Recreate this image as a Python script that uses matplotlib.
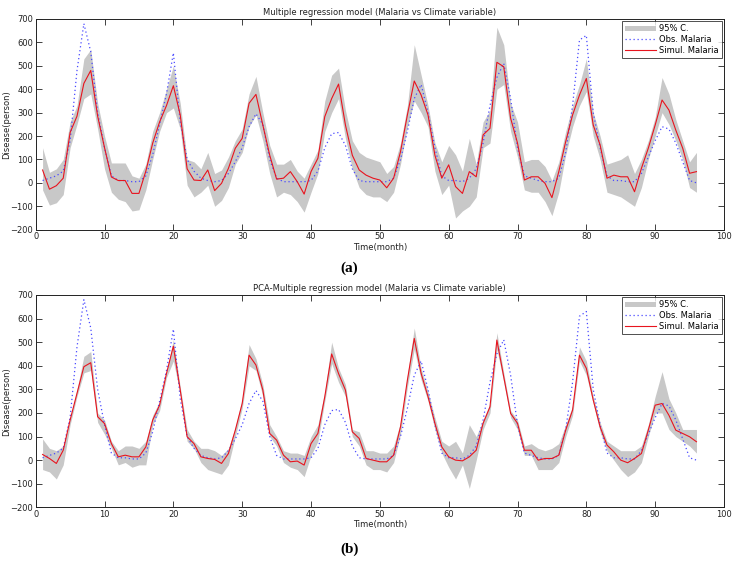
import matplotlib
matplotlib.use("Agg")
import matplotlib.pyplot as plt
import numpy as np

months = list(range(1, 97))

obs = [10, 20, 30, 50, 180, 480, 680, 560, 300, 150,
       30, 10, 10, 5, 5, 30, 120, 250, 380, 555,
       260, 100, 50, 20, 10, 5, 10, 40, 90, 150,
       240, 295, 250, 100, 20, 5, 5, 5, 5, 10,
       50, 150, 210, 215, 160, 60, 10, 5, 5, 5,
       5, 20, 100, 220, 360, 420, 300, 150, 30, 10,
       10, 5, 20, 60, 170, 330, 450, 510, 360, 150,
       30, 20, 10, 5, 5, 20, 130, 330, 610, 630,
       300, 150, 30, 10, 10, 5, 5, 40, 110, 180,
       240, 230, 170, 90, 10, 0]

sim_a = [55, -27, -12, 20, 215, 285, 425, 480, 285, 150,
         25, 10, 10, -45, -45, 50, 170, 260, 330, 415,
         290, 60, 12, 10, 55, -33, -2, 62, 148, 190,
         340, 378, 247, 118, 16, 20, 48, 5, -48, 48,
         105, 283, 360, 422, 247, 118, 55, 33, 20, 12,
         -21, 20, 133, 290, 435, 375, 290, 118, 20, 77,
         -16, -45, 48, 26, 205, 233, 515, 496, 276, 170,
         12, 26, 26, -2, -63, 48, 176, 290, 375, 446,
         247, 162, 20, 33, 26, 26, -38, 62, 148, 247,
         354, 311, 225, 148, 41, 48]

up_a = [150, 45, 60, 100, 260, 330, 530, 570, 340, 200,
        85, 85, 85, 30, 20, 80, 220, 300, 400, 500,
        340, 100, 90, 60, 130, 40, 55, 110, 180, 230,
        380, 455, 300, 160, 80, 80, 100, 50, 20, 80,
        140, 350, 460, 490, 310, 180, 130, 110, 100, 90,
        40, 70, 170, 330, 590, 460, 330, 170, 90, 160,
        120, 50, 190, 80, 260, 310, 665, 590, 340, 260,
        90, 100, 100, 70, 10, 90, 220, 330, 420, 530,
        300, 200, 80, 90, 100, 120, 40, 100, 180, 280,
        450, 380, 270, 180, 90, 130]

lo_a = [-30, -95, -85, -50, 150, 250, 360, 380, 230, 60,
        -40, -70, -80, -120, -115, -30, 100, 220, 300, 320,
        230, -10, -60, -40, -10, -100, -75, -20, 80, 130,
        240, 290, 180, 40, -60, -40, -50, -80, -125, -40,
        40, 220, 300, 360, 190, 60, -20, -50, -60, -60,
        -80, -40, 80, 240, 350, 300, 240, 50, -50, -10,
        -150, -120, -100, -60, 150, 170, 400, 420, 220, 110,
        -30, -40, -40, -80, -140, -40, 120, 240, 330, 390,
        200, 100, -40, -50, -60, -80, -100, -20, 100, 200,
        300, 250, 180, 100, -20, -40]

sim_b = [24, 7, -14, 42, 170, 283, 396, 413, 184, 155,
         70, 14, 21, 14, 14, 56, 170, 233, 367, 483,
         297, 99, 70, 14, 7, 3, -14, 28, 127, 240,
         445, 403, 297, 113, 85, 21, -7, -4, -21, 70,
         113, 269, 450, 367, 297, 120, 92, 7, 0, -7,
         -7, 21, 141, 339, 516, 367, 269, 156, 56, 14,
         0, -3, 14, 42, 156, 226, 509, 353, 198, 156,
         42, 42, 0, 7, 7, 21, 127, 212, 445, 389,
         255, 141, 64, 35, 0, -11, 7, 28, 127, 233,
         240, 190, 127, 113, 99, 78]

up_b = [90, 50, 40, 60, 180, 300, 440, 460, 200, 170,
        80, 40, 60, 60, 50, 80, 190, 250, 380, 510,
        310, 130, 80, 50, 50, 40, 20, 50, 140, 260,
        490, 430, 320, 150, 100, 40, 30, 30, 20, 100,
        150, 290, 500, 390, 320, 130, 120, 40, 40, 30,
        30, 60, 160, 360, 560, 390, 290, 180, 80, 60,
        80, 30, 150, 100, 170, 240, 540, 370, 210, 170,
        60, 70, 50, 40, 50, 70, 150, 230, 480, 420,
        270, 160, 80, 60, 40, 40, 40, 60, 150, 270,
        375, 260, 200, 130, 130, 130]

lo_b = [-40, -50, -80, -20, 150, 270, 370, 380, 160, 110,
        50, -20, -10, -30, -20, -20, 150, 210, 350, 420,
        280, 80, 50, -10, -40, -50, -60, -20, 100, 220,
        400, 380, 270, 100, 60, -10, -30, -40, -70, 20,
        80, 250, 410, 330, 270, 100, 60, -20, -40, -40,
        -50, -10, 110, 310, 470, 340, 250, 130, 30, -30,
        -80, -20, -120, 0, 130, 200, 470, 330, 180, 130,
        20, 20, -40, -40, -40, -10, 100, 190, 420, 360,
        240, 120, 40, 0, -40, -70, -50, -10, 100, 200,
        200, 130, 100, 80, 60, 30]

titles = ["Multiple regression model (Malaria vs Climate variable)",
          "PCA-Multiple regression model (Malaria vs Climate variable)"]
panel_tags = ["(a)", "(b)"]
xticks = list(range(0, 101, 10))
yticks = list(range(-200, 701, 100))

fig = plt.figure(figsize=(7.36, 5.62), dpi=100)
rects = [[0.0485, 0.5913, 0.9352, 0.3749], [0.0485, 0.0973, 0.9352, 0.3778]]
data = [(sim_a, up_a, lo_a), (sim_b, up_b, lo_b)]
tag_y = [0.522, 0.023]

for i in range(2):
    sim, up, lo = data[i]
    ax = fig.add_axes(rects[i])
    ax.fill_between(months, lo, up, color="#c8c8c8", linewidth=0, label="95% C.")
    ax.plot(months, obs, color="#4a4aff", linestyle=(0, (1, 2.2)), linewidth=0.9,
            label="Obs. Malaria")
    ax.plot(months, sim, color="#e8141e", linewidth=0.8, label="Simul. Malaria")
    ax.set_xlim(0, 100)
    ax.set_ylim(-200, 700)
    ax.set_xticks(xticks)
    ax.set_yticks(yticks)
    ax.tick_params(direction="in", top=True, right=True, labelsize=6,
                   length=4, width=0.6, colors="#222222", pad=2)
    for s in ax.spines.values():
        s.set_linewidth(0.7)
        s.set_color("#222222")
    ax.set_title(titles[i], fontsize=6, pad=3, color="#222222")
    ax.set_xlabel("Time(month)", fontsize=6, labelpad=1, color="#222222")
    ax.set_ylabel("Disease(person)", fontsize=6, color="#222222")
    ax.yaxis.set_label_coords(-0.036, 0.5)
    leg = ax.legend(loc="upper right", fontsize=6, frameon=True, fancybox=False,
                    edgecolor="#222222", borderpad=0.35, handlelength=3.8,
                    labelspacing=0.2, handletextpad=0.3, borderaxespad=0.3)
    leg.get_frame().set_linewidth(0.7)
    fig.text(0.475, tag_y[i], panel_tags[i], fontsize=11, fontweight="bold",
             family="Liberation Serif", ha="center", va="center")

fig.savefig("out.png", dpi=100)
